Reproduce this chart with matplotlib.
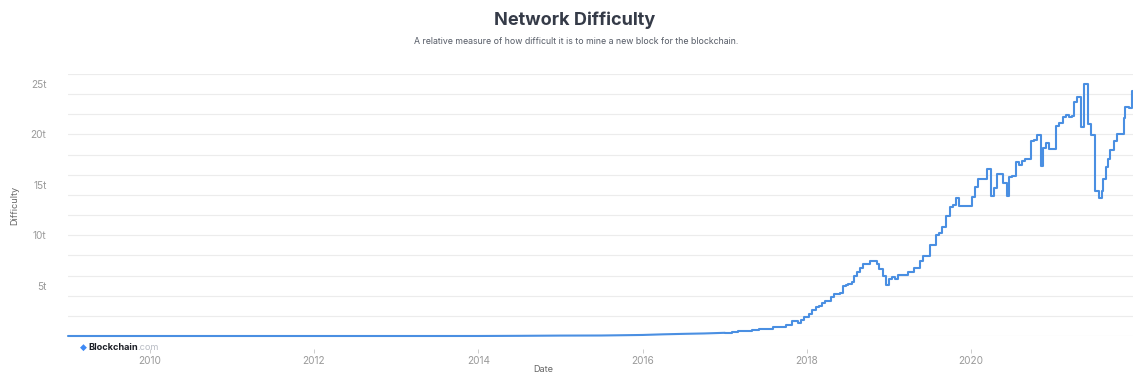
import matplotlib
matplotlib.use("Agg")
import matplotlib.pyplot as plt
import numpy as np
import pandas as pd

plt.rcParams["font.family"] = ["Inter", "DejaVu Sans"]

# Network difficulty (trillions): early history, sampled sparsely
early_dates = ["2009-01-03", "2010-07-01", "2011-07-01", "2012-07-01", "2013-07-01",
               "2014-01-01", "2014-07-01", "2015-01-01", "2015-07-01", "2016-01-01",
               "2016-04-01", "2016-07-01", "2016-10-01", "2017-01-01"]
early_vals = [0.0, 0.0, 0.0000018, 0.0000019, 0.000026,
              0.0014, 0.017, 0.041, 0.049, 0.103,
              0.166, 0.213, 0.253, 0.317]

# Difficulty at each adjustment from 2017 on
d2017_dates = ["2017-01-01", "2017-02-01", "2017-03-01", "2017-04-01", "2017-05-01",
               "2017-06-01", "2017-07-01", "2017-08-01", "2017-09-01", "2017-10-01",
               "2017-10-25", "2017-11-20", "2017-12-05", "2017-12-18", "2017-12-30"]
d2017_vals = [0.317, 0.392, 0.460, 0.499, 0.559,
              0.711, 0.708, 0.888, 0.923, 1.123,
              1.45, 1.33, 1.59, 1.873, 1.931]

d2018_dates = ["2018-01-12", "2018-01-25", "2018-02-08", "2018-02-22", "2018-03-07",
               "2018-03-21", "2018-04-04", "2018-04-17", "2018-05-01", "2018-05-27",
               "2018-06-08", "2018-06-23", "2018-07-04", "2018-07-18", "2018-07-30",
               "2018-08-11", "2018-08-25", "2018-09-07", "2018-09-22", "2018-10-10",
               "2018-10-24", "2018-11-08", "2018-11-17", "2018-12-03", "2018-12-18",
               "2018-12-30"]
d2018_vals = [2.227, 2.603, 2.874, 3.007, 3.291,
              3.462, 3.511, 3.839, 4.144, 4.306,
              4.94, 5.08, 5.17, 5.36, 5.95,
              6.39, 6.73, 7.15, 7.15, 7.45,
              7.46, 7.18, 6.65, 5.95, 5.11,
              5.62]

d2019_dates = ["2019-01-12", "2019-01-27", "2019-02-10", "2019-03-24", "2019-04-20",
               "2019-05-16", "2019-05-30", "2019-06-30", "2019-07-28", "2019-08-12",
               "2019-08-24", "2019-09-10", "2019-09-27", "2019-10-12", "2019-10-24",
               "2019-11-07"]
d2019_vals = [5.88, 5.62, 6.06, 6.38, 6.70,
              7.46, 7.93, 9.06, 9.99, 10.18,
              10.77, 11.89, 12.76, 13.01, 13.69,
              12.93]

d2020_dates = ["2020-01-04", "2020-01-17", "2020-01-31", "2020-03-12", "2020-03-28",
               "2020-04-09", "2020-04-24", "2020-05-23", "2020-06-08", "2020-06-18",
               "2020-07-02", "2020-07-18", "2020-07-30", "2020-08-14", "2020-08-28",
               "2020-09-21", "2020-10-05", "2020-10-19", "2020-11-04", "2020-11-17",
               "2020-11-30", "2020-12-13"]
d2020_vals = [13.80, 14.78, 15.55, 16.55, 13.91,
              14.72, 16.10, 15.14, 13.90, 15.78,
              15.90, 17.30, 16.95, 17.35, 17.60,
              19.31, 19.50, 19.99, 16.85, 18.67,
              19.16, 18.60]

d2021_dates = ["2021-01-12", "2021-01-27", "2021-02-10", "2021-02-25", "2021-03-12",
               "2021-03-24", "2021-03-31", "2021-04-14", "2021-05-04", "2021-05-15",
               "2021-06-01", "2021-06-15", "2021-07-06", "2021-07-20", "2021-08-04",
               "2021-08-10", "2021-08-22", "2021-09-01", "2021-09-10", "2021-09-27",
               "2021-10-12", "2021-11-08", "2021-11-16", "2021-11-30", "2021-12-14",
               "2021-12-20"]
d2021_vals = [20.82, 21.10, 21.72, 21.90, 21.72,
              21.86, 23.27, 23.67, 20.77, 25.05,
              21.05, 19.93, 14.36, 13.67, 14.36,
              15.56, 16.79, 17.61, 18.41, 19.31,
              20.08, 21.66, 22.77, 22.60, 24.27,
              24.27]

y_ticks = [5, 10, 15, 20, 25]
y_labels = ["5t", "10t", "15t", "20t", "25t"]
x_years = [2010, 2012, 2014, 2016, 2018, 2020]

early_x = pd.to_datetime(early_dates)
early_y = np.array(early_vals)
adj_x = pd.to_datetime(d2017_dates + d2018_dates + d2019_dates + d2020_dates + d2021_dates)
adj_y = np.array(d2017_vals + d2018_vals + d2019_vals + d2020_vals + d2021_vals)

W, H = 1133, 378
fig = plt.figure(figsize=(W / 100, H / 100), dpi=100)
fig.patch.set_facecolor("white")

left, right, top, bottom = 68, 1133, 74, 336
ax = fig.add_axes([left / W, 1 - bottom / H, (right - left) / W, (bottom - top) / H])

line_kw = dict(color="#4a8fe2", lw=1.5, solid_joinstyle="round",
               solid_capstyle="round", zorder=3, clip_on=False)
ax.plot(early_x, early_y, **line_kw)
ax.plot(adj_x, adj_y, drawstyle="steps-post", **line_kw)

ax.set_xlim(pd.Timestamp("2009-01-03"), pd.Timestamp("2021-12-20"))
ax.set_ylim(0, 26)

# light horizontal grid every 2t, labels every 5t
ax.yaxis.remove_overlapping_locs = False
ax.set_yticks(np.arange(0, 27, 2))
ax.yaxis.grid(True, color="#ececec", lw=0.8)
ax.tick_params(axis="y", which="major", length=0, labelleft=False)
ax.set_yticks(y_ticks, y_labels, minor=True)
ax.tick_params(axis="y", which="minor", length=0, pad=15.5,
               labelsize=7.3, labelcolor="#9a9a9a")

ax.set_xticks([pd.Timestamp(f"{y}-01-01") for y in x_years], [str(y) for y in x_years])
ax.tick_params(axis="x", length=3, width=0.7, color="#cccccc", pad=2.5,
               labelsize=7.3, labelcolor="#9a9a9a")
ax.spines["bottom"].set_position(("outward", 9))
for s in ax.spines.values():
    s.set_visible(False)

fig.text(575 / W, 1 - 20 / H, "Network Difficulty", ha="center", va="center",
         fontsize=13, fontweight="bold", color="#353b48")
fig.text(576 / W, 1 - 42 / H,
         "A relative measure of how difficult it is to mine a new block for the blockchain.",
         ha="center", va="center", fontsize=6.3, color="#555b66")
fig.text(15 / W, 1 - 205 / H, "Difficulty", rotation=90, ha="center", va="center",
         fontsize=6.6, color="#666666")
fig.text(543 / W, 1 - 370 / H, "Date", ha="center", va="center",
         fontsize=6.6, color="#666666")

# Blockchain.com credit
fig.text(83 / W, 1 - 347 / H, "\u25c6", ha="center", va="center", fontsize=6.5,
         color="#3d89f5", family="DejaVu Sans")
t1 = fig.text(88 / W, 1 - 347 / H, "Blockchain", ha="left", va="center",
              fontsize=6.6, fontweight="bold", color="#1c1f26")
fig.canvas.draw()
bb = t1.get_window_extent()
fig.text(bb.x1 / W, 1 - 347 / H, ".com", ha="left", va="center",
         fontsize=6.6, color="#b8bcc4")

fig.savefig("out.png", dpi=100, facecolor="white")
